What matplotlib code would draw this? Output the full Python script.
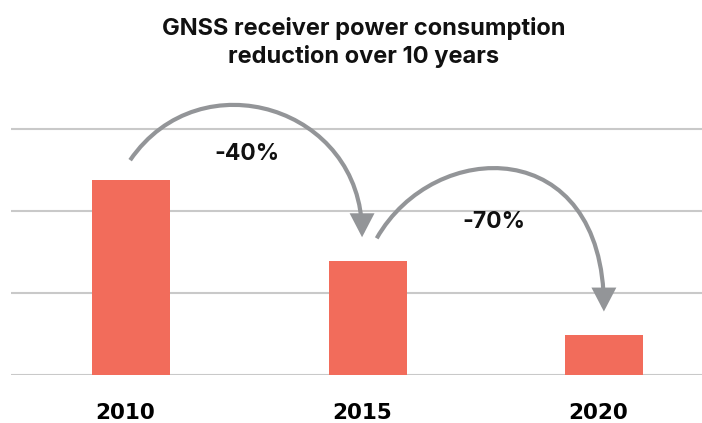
import matplotlib
matplotlib.use("Agg")
import matplotlib.pyplot as plt
from matplotlib.patches import FancyArrowPatch, ArrowStyle
from matplotlib.path import Path
import matplotlib.transforms as mtransforms

# ---- data ----
years = ["2010", "2015", "2020"]
values = [2.38, 1.39, 0.49]
changes = ["-40%", "-70%"]
grid_levels = [0, 1, 2, 3]
title = "GNSS receiver power consumption\nreduction over 10 years"

bar_color = "#F26C5B"
grid_color = "#C9C9C9"
arrow_color = "#939598"

fig = plt.figure(figsize=(7.02, 4.23), dpi=100)
ax = fig.add_axes([11/702, (423-375)/423, (702-11)/702, 3.4*82/423])

x = list(range(len(years)))
ax.bar(x, values, width=0.33, color=bar_color, zorder=2)
ax.set_xlim(-0.509, 2.414)
ax.set_ylim(0, 3.4)
for g in grid_levels:
    ax.axhline(g, color=grid_color, lw=1.5, zorder=1)
for s in ax.spines.values():
    s.set_visible(False)
ax.set_yticks([])
ax.set_xticks(x)
ax.set_xticklabels(years, fontsize=15.5, fontweight="bold", family="DejaVu Sans")
ax.tick_params(axis="x", length=0, pad=31.5)
off = mtransforms.ScaledTranslation(-6/100, 0, fig.dpi_scale_trans)
for lab in ax.get_xticklabels():
    lab.set_transform(lab.get_transform() + off)
    lab.set_va("baseline")

# ---- curved arrows between consecutive bars ----
arrow_specs = [
    dict(s=(-0.005, 0.24), c1=(0.292, 3.87), c2=(0.976, 3.27), e=(-0.024, 0.29), lab=(0.489, 2.695)),
    dict(s=(0.038, 0.277), c1=(1.281, 2.90), c2=(1.999, 2.95), e=(-0.001, 0.284), lab=(1.534, 1.86)),
]
style = ArrowStyle("-|>", head_length=12.5, head_width=6.5)
for i, spec in enumerate(arrow_specs):
    x0, y0 = x[i] + spec["s"][0], values[i] + spec["s"][1]
    x3, y3 = x[i + 1] + spec["e"][0], values[i + 1] + spec["e"][1]
    path = Path([(x0, y0), spec["c1"], spec["c2"], (x3, y3)],
                [Path.MOVETO, Path.CURVE4, Path.CURVE4, Path.CURVE4])
    arr = FancyArrowPatch(path=path, arrowstyle=style, mutation_scale=1,
                          color=arrow_color, lw=3, zorder=3, clip_on=False,
                          joinstyle="miter", capstyle="butt")
    ax.add_patch(arr)
    ax.text(spec["lab"][0], spec["lab"][1], changes[i], ha="center", va="center",
            fontsize=16.5, fontweight="bold", family="Inter", color="#111111", zorder=4)

fig.text(364/702, 1 - 63/423, title, ha="center", va="baseline", fontsize=17,
         fontweight="bold", family="Inter", color="#111111", linespacing=1.25)

fig.savefig("out.png", dpi=100)
